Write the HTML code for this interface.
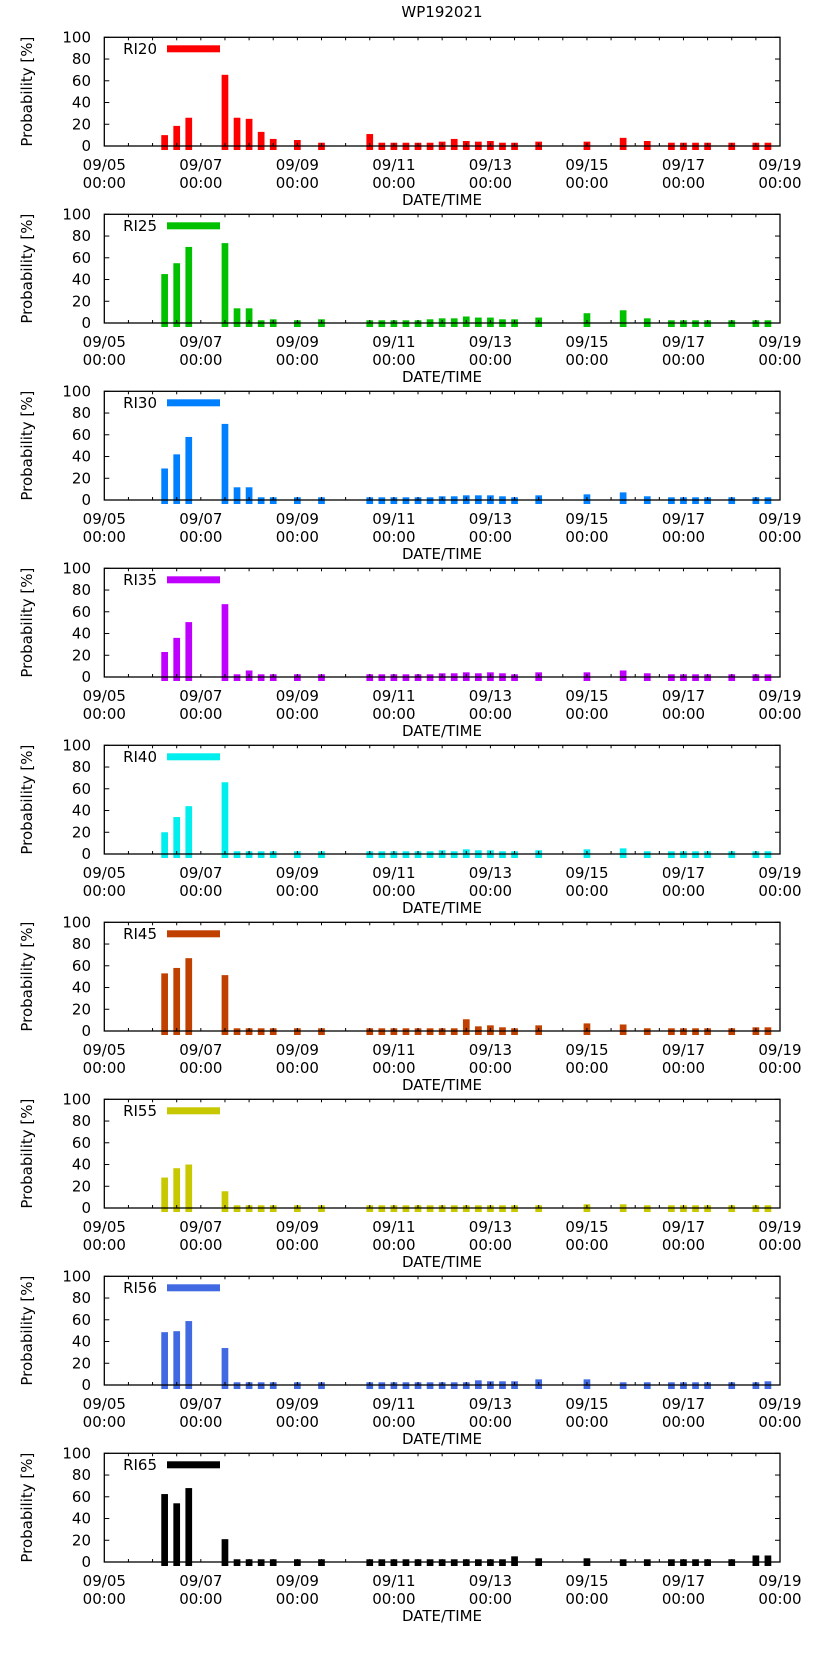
<!DOCTYPE html>
<html><head><meta charset="utf-8">
<style>
html,body{margin:0;padding:0;background:#fff;}
svg{display:block;font-family:"DejaVu Sans","Liberation Sans",sans-serif;}
</style></head>
<body>
<svg id="chart" width="822" height="1653" viewBox="0 0 822 1653">
<text x="442" y="17" text-anchor="middle" font-size="15">WP192021</text>
</svg>
<script>
// bar times in days since 09/05 00:00
const times = [1.25,1.5,1.75,2.5,2.75,3,3.25,3.5,4,4.5,5.5,5.75,6,6.25,6.5,6.75,7,7.25,7.5,7.75,8,8.25,8.5,9,10,10.75,11.25,11.75,12,12.25,12.5,13,13.5,13.75];
const seriesNames = ["RI20","RI25","RI30","RI35","RI40","RI45","RI55","RI56","RI65"];
const seriesColors = ["#ff0000","#00c000","#0080ff","#c000ff","#00eeee","#c04000","#c8c800","#4169e1","#000000"];
const ri20 = [10,18.5,26,65.5,26,25,13,6.5,5.5,3,11,3,3,3,3,3,4,6.5,4.6,4,4.6,3,3,4,4,7.5,4.6,3,3,3,3,3,3,3];
const ri25 = [45,55,70,73.5,13.5,13.5,2.5,3.4,2.5,3.4,2.5,2.5,2.5,2.5,2.5,3.4,4.3,4.3,6,5,5,3.4,3.4,5,9,11.7,4.3,2.5,2.5,2.5,2.5,2.5,2.5,2.5];
const ri30 = [29,42,58,70,11.7,11.7,2.5,2.5,2.5,2.5,2.5,2.5,2.5,2.5,2.5,2.5,3.4,3.4,4.3,4.3,4.3,3.4,2.5,4.3,5.2,7,3.4,2.5,2.5,2.5,2.5,2.5,2.5,2.5];
const ri35 = [23,36,50.5,67,2.5,6,2.5,2.5,2.5,2.5,2.5,2.5,2.5,2.5,2.5,2.5,3.4,3.4,4.3,3.4,4.3,3.4,2.5,4.3,4.3,6,3.4,2.5,2.5,2.5,2.5,2.5,2.5,2.5];
const ri40 = [20,34,44,66,2.5,2.5,2.5,2.5,2.5,2.5,2.5,2.5,2.5,2.5,2.5,2.5,3.4,2.5,4.3,3.4,3.4,2.5,2.5,3.4,4.3,5.2,2.5,2.5,2.5,2.5,2.5,2.5,2.5,2.5];
const ri45 = [53,58,67,51.4,2.5,2.5,2.5,2.5,2.5,2.5,2.5,2.5,2.5,2.5,2.5,2.5,2.5,2.5,10.8,4.3,5.2,3.4,2.5,5.2,7,6,2.5,2.5,2.5,2.5,2.5,2.5,3.4,3.4];
const ri55 = [28,36.6,40,15.4,2.5,2.5,2.5,2.5,2.5,2.5,2.5,2.5,2.5,2.5,2.5,2.5,2.5,2.5,2.5,2.5,2.5,2.5,2.5,2.5,3.4,3.4,2.5,2.5,2.5,2.5,2.5,2.5,2.5,2.5];
const ri56 = [48.6,49.5,58.8,34,2.5,2.5,2.5,2.5,2.5,2.5,2.5,2.5,2.5,2.5,2.5,2.5,2.5,2.5,2.5,4.3,3.4,3.4,3.4,5.2,5.2,2.5,2.5,2.5,2.5,2.5,2.5,2.5,2.5,3.4];
const ri65 = [62.5,54,68,21,2.5,2.5,2.5,2.5,2.5,2.5,2.5,2.5,2.5,2.5,2.5,2.5,2.5,2.5,2.5,2.5,2.5,2.5,5.2,3.4,3.4,2.5,2.5,2.5,2.5,2.5,2.5,2.5,6,6];
const yTicks = [0,20,40,60,80,100];
const xTickDays = [0,2,4,6,8,10,12,14];
const xTickDates = ["09/05","09/07","09/09","09/11","09/13","09/15","09/17","09/19"];

const allSeries = [ri20,ri25,ri30,ri35,ri40,ri45,ri55,ri56,ri65];
const NS = "http://www.w3.org/2000/svg";
const svg = document.getElementById("chart");
const X0 = 104.3, X1 = 780, DAYS = 14;
const PH = 108.7;
function xs(d){ return X0 + (X1 - X0) * d / DAYS; }
function mk(tag, attrs, parent){
  const e = document.createElementNS(NS, tag);
  for (const k in attrs) e.setAttribute(k, attrs[k]);
  (parent || svg).appendChild(e);
  return e;
}
seriesNames.forEach((name, k) => {
  const zero = 146 + 177 * k, top = zero - PH;
  const ys = v => zero - PH * v / 100;
  const g = mk("g", {});
  
  
  // bars
  const vals = allSeries[k];
  times.forEach((t, i) => {
    const r = mk("rect", {x: (xs(t) - 3.35).toFixed(2), y: ys(vals[i]).toFixed(2), width: 6.7, height: (zero + 4 - ys(vals[i])).toFixed(2), fill: seriesColors[k]}, g);
    
    
  });
  // frame
  const fr = mk("rect", {x: X0, y: top, width: X1 - X0, height: PH, fill: "none", stroke: "#000", "stroke-width": 1.3}, g);
  
  
  // y ticks
  yTicks.forEach(v => {
    const y = ys(v);
    mk("line", {x1: X0, x2: X0 + 5, y1: y, y2: y, stroke: "#000", "stroke-width": 1}, g);
    mk("line", {x1: X1, x2: X1 - 5, y1: y, y2: y, stroke: "#000", "stroke-width": 1}, g);
    const tl = mk("text", {x: 91, y: y + 5, "text-anchor": "end", "font-size": 15}, g);
    tl.textContent = v;
    
    
  });
  // x ticks every 12h
  for (let d = 0.5; d < DAYS; d += 0.5) {
    const x = xs(d);
    mk("line", {x1: x, x2: x, y1: zero, y2: zero - 3, stroke: "#000", "stroke-width": 1}, g);
    mk("line", {x1: x, x2: x, y1: top, y2: top + 3, stroke: "#000", "stroke-width": 1}, g);
  }
  xTickDays.forEach((d, i) => {
    const t1 = mk("text", {x: xs(d), y: zero + 24, "text-anchor": "middle", "font-size": 15}, g);
    t1.textContent = xTickDates[i];
    
    
    const t2 = mk("text", {x: xs(d), y: zero + 42, "text-anchor": "middle", "font-size": 15}, g);
    t2.textContent = "00:00";
    
    
  });
  const xl = mk("text", {x: 442, y: zero + 59, "text-anchor": "middle", "font-size": 15}, g);
  xl.textContent = "DATE/TIME";
  
  
  const yl = mk("text", {x: 0, y: 0, "text-anchor": "middle", "font-size": 15, transform: "translate(32," + ((top + zero) / 2) + ") rotate(-90)"}, g);
  yl.textContent = "Probability [%]";
  
  
  // legend
  const lt = mk("text", {x: 157, y: top + 16.5, "text-anchor": "end", "font-size": 15}, g);
  lt.textContent = name;
  
  
  const ll = mk("rect", {x: 167, y: top + 8, width: 53, height: 7, fill: seriesColors[k]}, g);
  
  
});
</script>
</body></html>
